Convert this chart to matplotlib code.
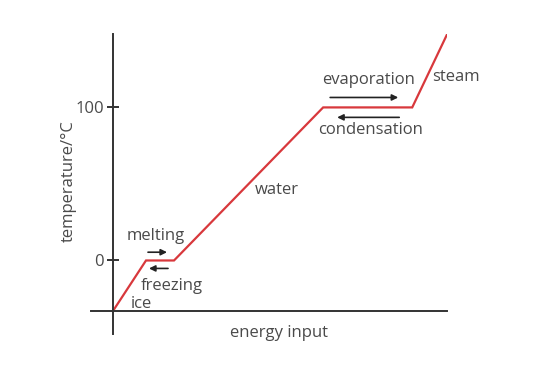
import matplotlib
matplotlib.use("Agg")
import matplotlib.pyplot as plt

# heating curve, energy in arbitrary units, temperature in degC
energy = [0, 33, 61, 210, 299, 334]
temperature = [-33, 0, 0, 100, 100, 148]
ytick_values = [0, 100]
ytick_labels = ["0", "100"]

plt.rcParams["font.family"] = ["Open Sans", "DejaVu Sans"]
text_col = "#4a4a4a"
fs = 12

fig = plt.figure(figsize=(5.35, 3.69), dpi=100)
ax = fig.add_axes([0.170, 0.095, 0.666, 0.813])

ax.plot(energy, temperature, color="#d8383c", lw=1.6, solid_joinstyle="miter")

ax.set_xlim(-22, 334)
ax.set_ylim(-48, 148)

for s in ["top", "right"]:
    ax.spines[s].set_visible(False)
ax.spines["left"].set_position(("data", 0))
ax.spines["bottom"].set_position(("data", -33))
for s in ["left", "bottom"]:
    ax.spines[s].set_color("#333333")
    ax.spines[s].set_linewidth(1.4)

ax.set_xticks([])
ax.set_yticks(ytick_values)
ax.set_yticklabels(ytick_labels)
ax.tick_params(axis="y", direction="inout", length=9, width=1.4,
               color="#333333", labelsize=fs, labelcolor=text_col, pad=2)

# labels
ax.text(166, -47.5, "energy input", ha="center", va="center",
        fontsize=fs, color=text_col)
ax.text(-44, 52, "temperature/\u00b0C", rotation=90, ha="center",
        va="center", fontsize=fs, color=text_col)

ax.text(255, 118, "evaporation", ha="center", va="center", fontsize=fs, color=text_col)
ax.text(257, 85, "condensation", ha="center", va="center", fontsize=fs, color=text_col)
ax.text(319, 120, "steam", ha="left", va="center", fontsize=fs, color=text_col)
ax.text(164, 46, "water", ha="center", va="center", fontsize=fs, color=text_col)
ax.text(43, 16, "melting", ha="center", va="center", fontsize=fs, color=text_col)
ax.text(28, -17, "freezing", ha="left", va="center", fontsize=fs, color=text_col)
ax.text(18, -28.5, "ice", ha="left", va="center", fontsize=fs, color=text_col)

arrow = dict(arrowstyle="-|>", color="#222222", lw=1.2, mutation_scale=9,
             shrinkA=0, shrinkB=0)
ax.annotate("", xy=(285, 106.5), xytext=(217, 106.5), arrowprops=arrow)
ax.annotate("", xy=(224, 93.5), xytext=(286, 93.5), arrowprops=arrow)
ax.annotate("", xy=(54, 5.4), xytext=(35, 5.4), arrowprops=arrow)
ax.annotate("", xy=(36, -5.2), xytext=(55, -5.2), arrowprops=arrow)

fig.savefig("out.png", dpi=100)
